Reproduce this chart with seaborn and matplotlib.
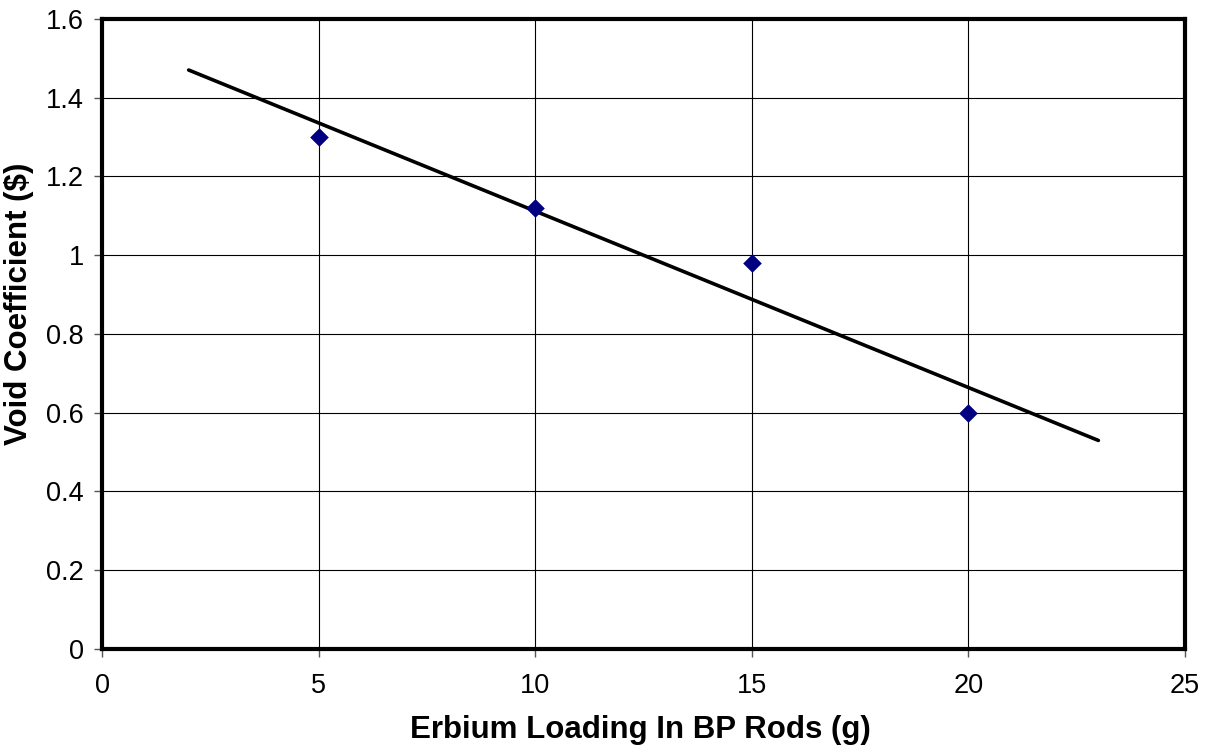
import numpy as np
import pandas as pd
import matplotlib
matplotlib.use("Agg")
import matplotlib.pyplot as plt
import seaborn as sns

erbium_g = [5, 10, 15, 20]
void_coef = [1.30, 1.12, 0.98, 0.60]
trend_range = [2, 23]
x_ticks = [0, 5, 10, 15, 20, 25]
y_ticks = [0, 0.2, 0.4, 0.6, 0.8, 1, 1.2, 1.4, 1.6]
y_tick_labels = ["0", "0.2", "0.4", "0.6", "0.8", "1", "1.2", "1.4", "1.6"]

sns.set_theme(style="white")
plt.rcParams['font.family'] = ['Liberation Sans', 'DejaVu Sans']
plt.rcParams['text.color'] = 'black'
plt.rcParams['axes.labelcolor'] = 'black'

fig = plt.figure(figsize=(12.06, 7.48), dpi=100)
ax = fig.add_axes([0.0846, 0.1324, 0.898, 0.8422])

df = pd.DataFrame({"x": erbium_g, "y": void_coef})
slope, intercept = np.polyfit(erbium_g, void_coef, 1)
tx = np.array(trend_range, dtype=float)
trend = pd.DataFrame({"x": tx, "y": slope * tx + intercept})

sns.lineplot(data=trend, x="x", y="y", ax=ax, color="black", linewidth=2.6, zorder=3)
sns.scatterplot(data=df, x="x", y="y", ax=ax, marker="D", s=90, color="#000080",
                edgecolor="#000080", linewidth=0, zorder=4)

ax.set_xlim(0, 25)
ax.set_ylim(0, 1.6)
ax.set_xticks(x_ticks)
ax.set_xticklabels([str(t) for t in x_ticks])
ax.set_yticks(y_ticks)
ax.set_yticklabels(y_tick_labels)
ax.grid(True, color="black", linewidth=0.8)
ax.set_axisbelow(True)
for s in ax.spines.values():
    s.set_visible(True)
    s.set_color("black")
    s.set_linewidth(3)
ax.tick_params(axis="both", direction="out", length=6, width=1,
               labelsize=19.5, labelcolor="black", color="#555555")
ax.tick_params(axis="x", pad=11)
ax.tick_params(axis="y", pad=7)
ax.tick_params(axis="both", bottom=True, left=True)
ax.set_xlabel("Erbium Loading In BP Rods (g)", fontsize=22.5, fontweight="bold", color="black")
ax.set_ylabel("Void Coefficient ($)", fontsize=22.5, fontweight="bold", color="black")
ax.xaxis.set_label_coords(0.497, -0.105)
ax.yaxis.set_label_coords(-0.063, 0.548)

fig.savefig("out.png", dpi=100, facecolor="white")
